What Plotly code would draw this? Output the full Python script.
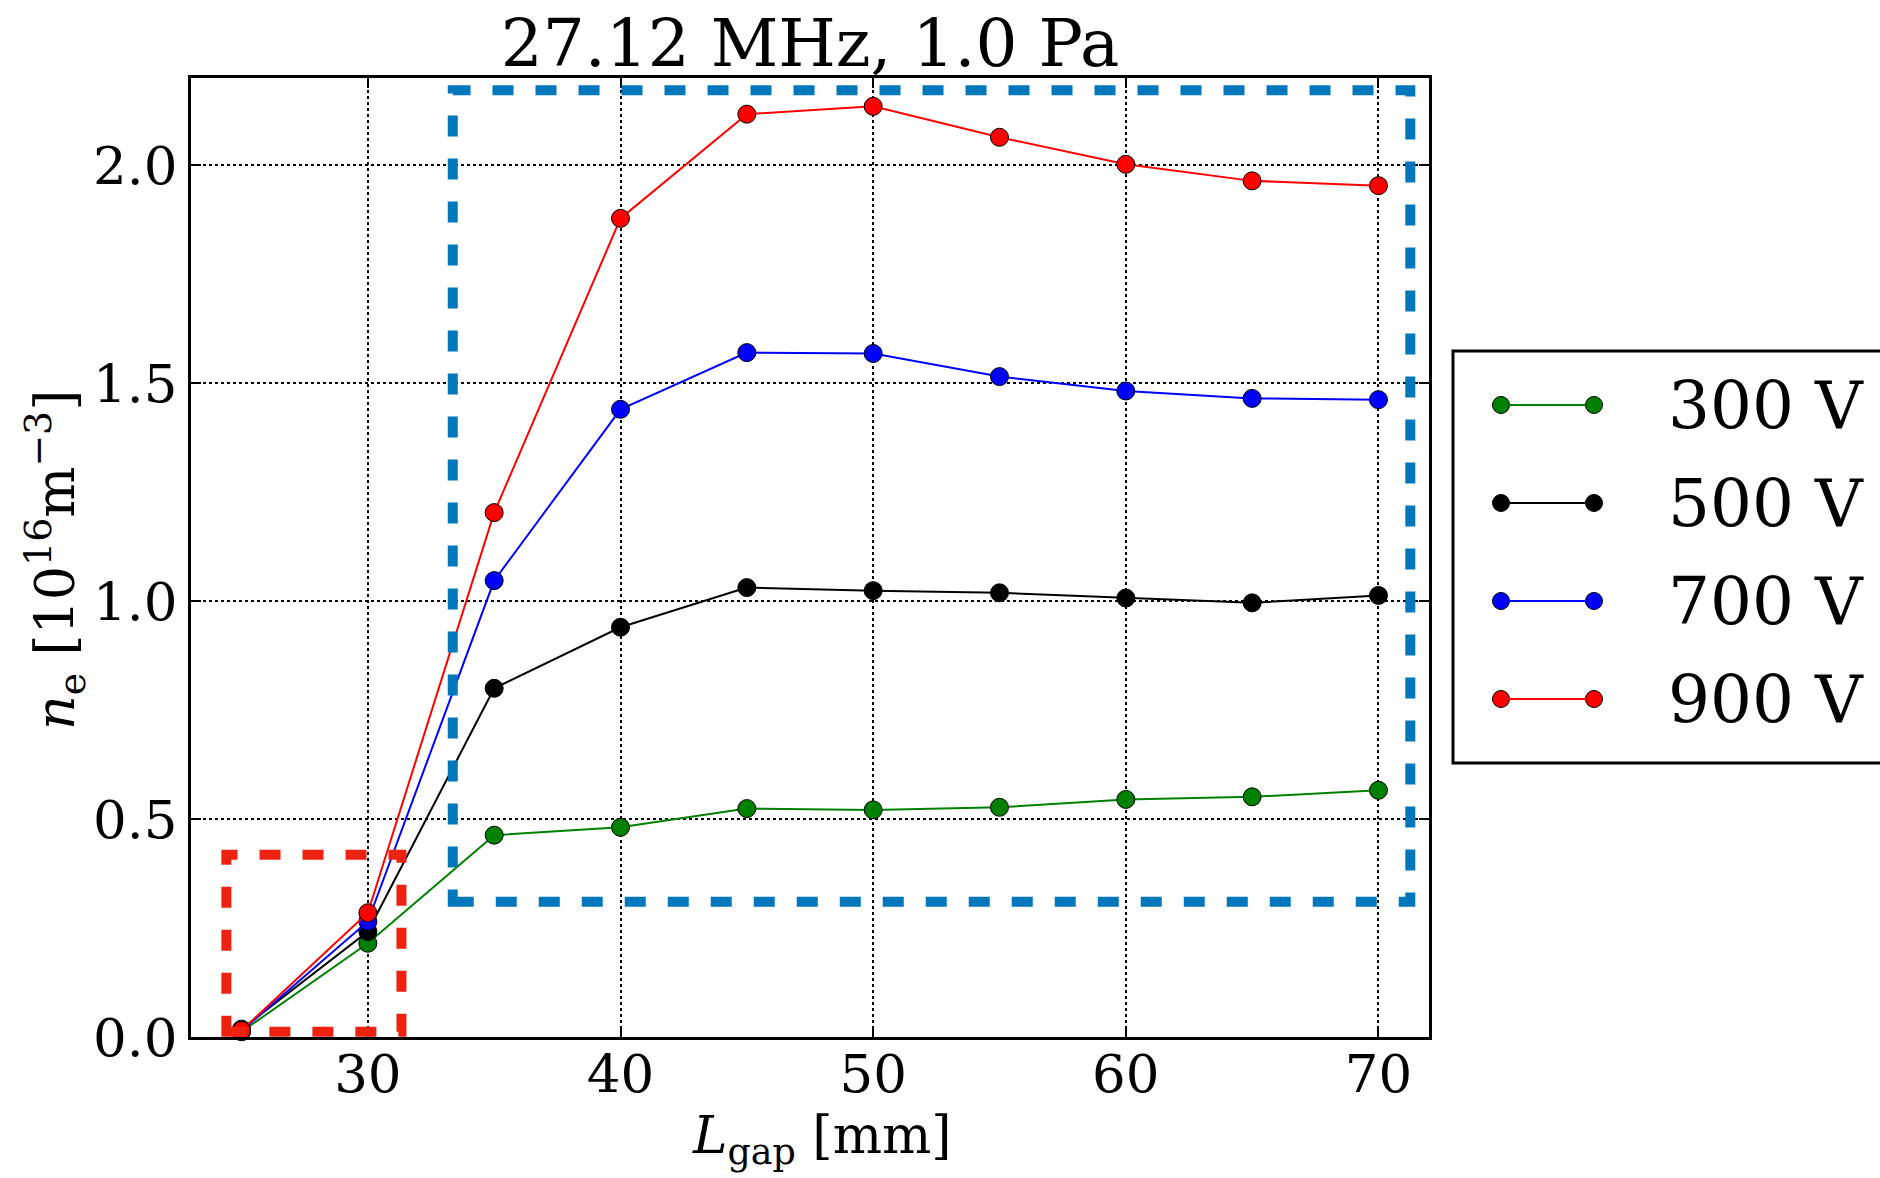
import plotly.graph_objects as go

# ---------------- data ----------------
gap_mm = [25, 30, 35, 40, 45, 50, 55, 60, 65, 70]
ne_300V = [0.012, 0.215, 0.463, 0.481, 0.524, 0.521, 0.527, 0.545, 0.551, 0.566]
ne_500V = [0.018, 0.242, 0.800, 0.940, 1.031, 1.024, 1.019, 1.007, 0.996, 1.013]
ne_700V = [0.014, 0.265, 1.047, 1.440, 1.570, 1.568, 1.515, 1.482, 1.465, 1.462]
ne_900V = [0.015, 0.285, 1.203, 1.878, 2.117, 2.135, 2.064, 2.002, 1.964, 1.953]
series_names = ["300 V", "500 V", "700 V", "900 V"]

x_ticks = [30, 40, 50, 60, 70]
y_ticks = [0.0, 0.5, 1.0, 1.5, 2.0]

# highlight boxes (data coordinates): x0, x1, y0, y1
red_box = [24.4, 31.33, 0.012, 0.418]
blue_box = [33.36, 71.26, 0.31, 2.172]

title_text = "27.12 MHz, 1.0 Pa"
xlabel = "<i>L</i><sub>gap</sub> [mm]"
ylabel = "<i>n</i><sub>e</sub> [10<sup>16</sup>m<sup>\u22123</sup>]"

# ---------------- styling ----------------
W, H = 1880, 1178
L, R, T, B = 191, 1429, 78, 1037
FONT = "DejaVu Serif"
colors = ["#008000", "#000000", "#0000ff", "#ff0000"]


def px_x(p):
    return (p - L) / (R - L)


def px_y(p):
    return (B - p) / (B - T)


fig = go.Figure()
for name, vals, c in zip(series_names, [ne_300V, ne_500V, ne_700V, ne_900V], colors):
    fig.add_trace(go.Scatter(
        x=gap_mm, y=vals, name=name, mode="lines+markers",
        line=dict(color=c, width=2),
        marker=dict(color=c, size=18, line=dict(color="black", width=1)),
        cliponaxis=False, showlegend=False,
    ))

shapes = []
for box, col in [(red_box, "#ee2211"), (blue_box, "#0077bb")]:
    shapes.append(dict(type="rect", xref="x", yref="y",
                       x0=box[0], x1=box[1], y0=box[2], y1=box[3],
                       line=dict(color=col, width=10, dash="21px,22px"),
                       fillcolor="rgba(0,0,0,0)", layer="above"))

# custom legend (matplotlib style with two markers per sample)
shapes.append(dict(type="rect", xref="paper", yref="paper",
                   x0=px_x(1453), x1=px_x(1900), y0=px_y(763), y1=px_y(351),
                   line=dict(color="black", width=3), fillcolor="white"))
annotations = []
leg_y = [405, 503, 601, 699]
for name, c, yy in zip(series_names, colors, leg_y):
    shapes.append(dict(type="line", xref="paper", yref="paper",
                       x0=px_x(1501), x1=px_x(1594), y0=px_y(yy), y1=px_y(yy),
                       line=dict(color=c, width=2)))
    for cx in (1501, 1594):
        shapes.append(dict(type="circle", xref="paper", yref="paper",
                           xsizemode="pixel", ysizemode="pixel",
                           xanchor=px_x(cx), yanchor=px_y(yy),
                           x0=-8.5, x1=8.5, y0=-8.5, y1=8.5,
                           fillcolor=c, line=dict(color="black", width=1)))
    annotations.append(dict(text=name, xref="paper", yref="paper",
                            x=px_x(1666), y=px_y(yy), xanchor="left", yanchor="middle",
                            showarrow=False, font=dict(family=FONT, size=66, color="black")))

annotations.append(dict(text=xlabel, xref="paper", yref="paper",
                        x=px_x(822), y=px_y(1139), xanchor="center", yanchor="middle",
                        showarrow=False, font=dict(family=FONT, size=52, color="black")))
annotations.append(dict(text=ylabel, xref="paper", yref="paper",
                        x=px_x(55), y=px_y(560), xanchor="center", yanchor="middle",
                        textangle=-90, showarrow=False,
                        font=dict(family=FONT, size=54, color="black")))

axis_common = dict(showline=True, linecolor="black", linewidth=3, mirror="allticks",
                   ticks="inside", ticklen=10, tickwidth=1.5, tickcolor="black",
                   showgrid=True, gridcolor="black", gridwidth=1.5, griddash="dot",
                   zeroline=False, tickfont=dict(family=FONT, size=53, color="black"))

fig.update_layout(
    width=W, height=H,
    margin=dict(l=L, r=W - R, t=T, b=H - B, autoexpand=False),
    paper_bgcolor="white", plot_bgcolor="white",
    title=dict(text=title_text, x=0.5, xref="paper", xanchor="center",
               y=1 - 43 / H, yref="container", yanchor="middle",
               font=dict(family=FONT, size=66, color="black")),
    xaxis=dict(range=[23, 72], tickvals=x_ticks, ticktext=[str(v) for v in x_ticks],
               ticklabelstandoff=-12, **axis_common),
    yaxis=dict(range=[0, 2.2], tickvals=y_ticks, ticktext=[f"{v:.1f}" for v in y_ticks],
               **axis_common),
    shapes=shapes, annotations=annotations, showlegend=False,
)

fig.write_html("out.html")
